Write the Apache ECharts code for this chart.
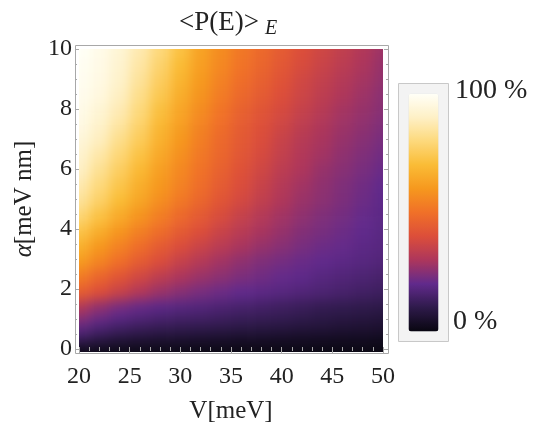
<!DOCTYPE html>
<html>
<head>
<meta charset="utf-8">
<script src="https://cdn.jsdelivr.net/npm/echarts@6/dist/echarts.min.js"></script>
<style>
  html, body { margin: 0; padding: 0; background: #fff; }
  #wrap { position: relative; width: 539px; height: 429px; }
  #clip { position: absolute; left: 79px; top: 49px; width: 304px; height: 303px; overflow: hidden; }
  #heat { position: absolute; left: -79px; top: -49px; width: 539px; height: 429px; filter: blur(6px); }
  #main { position: absolute; left: 0; top: 0; width: 539px; height: 429px; }
</style>
</head>
<body>
<div id="wrap">
  <div id="clip"><div id="heat"></div></div>
  <div id="main"></div>
</div>
<script>
// V [meV] sample columns
const vValues = [20, 22, 24, 26, 28, 30, 32, 34, 36, 38, 40, 42, 44, 46, 48, 50];
// alpha [meV nm] sample rows
const alphaValues = [0, 0.25, 0.5, 0.75, 1, 1.25, 1.5, 2, 2.5, 3, 3.5, 4, 4.5, 5,
  5.5, 6, 6.5, 7, 7.5, 8, 8.5, 9, 9.5, 10];
// <P(E)>_E in %, one row per alpha value
const percent = [
  [1, 1, 1, 1, 1, 0.5, 0.5, 0.5, 0.5, 0.5, 0.5, 0.5, 0.5, 0.5, 0.5, 0.5],
  [6, 5, 4, 3.5, 3, 3, 2.5, 2.5, 2, 2, 2, 2, 1.5, 1.5, 1.5, 1],
  [14, 11, 9, 8, 7, 6.5, 6, 5.5, 5, 5, 4.5, 4, 4, 3.5, 3.5, 3],
  [18, 15, 13, 11.5, 10.5, 10, 9.5, 9, 8.5, 8, 7.5, 7, 6.5, 6, 5.5, 5],
  [23, 19, 16.5, 15, 14, 13, 12.5, 12, 11, 10.5, 10, 9, 8.5, 7.5, 7, 6.5],
  [27, 23, 20, 18, 16.5, 15.5, 15, 14, 13, 12.5, 12, 11, 10, 9.5, 9, 8],
  [32, 27, 23.5, 21, 19.5, 18.5, 17.5, 16.5, 15.5, 14.5, 13.5, 12.5, 11.5, 11, 10.5, 10],
  [45, 40, 35.5, 31, 27.5, 25, 23, 21.5, 20, 19, 18, 17, 16, 15, 14, 13],
  [53, 47, 42, 37.5, 33.5, 30, 27.5, 25.5, 23.5, 22, 20.5, 19.5, 18, 17, 16, 15],
  [61, 55, 49.5, 44, 39.5, 35, 31.5, 28.5, 26, 24, 22.5, 21, 20, 19, 18, 17],
  [67, 60, 54.5, 49, 44, 39.5, 36, 32.5, 29.5, 27, 25, 23, 21.5, 20.5, 19, 18],
  [73, 66, 59.5, 54, 49, 44, 40, 36, 32.5, 29.5, 27, 24.5, 23, 21.5, 20, 18.5],
  [79, 72, 65, 59, 53.5, 48, 43.5, 39, 35, 31.5, 28.5, 26, 24, 22.5, 20.5, 19],
  [84, 77, 70, 63.5, 57.5, 52, 47, 42, 38, 34, 30.5, 27.5, 25.5, 23.5, 21.5, 19.5],
  [87, 80, 73, 66, 60, 54.5, 49, 44, 39.5, 35.5, 31.5, 28.5, 26, 24, 22, 20],
  [90, 83, 76, 69, 62, 56, 50.5, 45.5, 41, 37, 33, 30, 27, 25, 23, 21],
  [92, 86, 79, 72, 64.5, 58, 52, 47, 42.5, 38.5, 34.5, 31, 28.5, 26, 24, 22],
  [94, 89, 82, 75, 67, 60, 53.5, 48, 43.5, 39.5, 35.5, 32, 29.5, 27, 25, 23],
  [96, 91, 85, 77.5, 69, 62, 55, 49.5, 44.5, 40.5, 37, 33.5, 30.5, 28, 26, 24],
  [97, 93, 87.5, 80, 71.5, 64, 57, 51, 46, 42, 38.5, 35, 32, 29, 27, 25],
  [98, 95, 89.5, 82, 74, 66, 59, 53, 48, 44, 40, 36.5, 33.5, 30.5, 28, 25.5],
  [98.5, 96, 91, 84, 76, 68, 60.5, 54.5, 49.5, 45.5, 41.5, 37.5, 34.5, 31.5, 29, 26.5],
  [99, 96.5, 92, 85.5, 78, 70, 62, 56, 51, 47, 43, 39, 36, 33, 30, 27],
  [100, 97, 93, 87, 80, 72, 63, 57, 52, 48, 44, 40, 37, 34, 31, 28]
];
// colour scale labels
const scaleLabels = ['100 %', '0 %'];
const sunset = ['#080610', '#2e1a4a', '#612a8c', '#ad365c', '#dc4e3a', '#f07028',
  '#f6981e', '#fabc36', '#fdd97c', '#fef0c6', '#fffff8'];

const serif = 'Liberation Serif';
const frameColor = '#a8a8a8';
const textColor = '#222';

// cell edges halfway between samples; outer cells run past the frame so the
// soft rendering does not fade at the borders
function edges(arr, pad) {
  return arr.map(function (v, i) {
    const lo = i === 0 ? v - pad : (arr[i - 1] + v) / 2;
    const hi = i === arr.length - 1 ? v + pad : (v + arr[i + 1]) / 2;
    return [lo, hi];
  });
}
const vEdges = edges(vValues, 3);
const aEdges = edges(alphaValues, 1);

const cells = [];
alphaValues.forEach(function (a, i) {
  vValues.forEach(function (v, j) {
    cells.push([v, a, percent[i][j], i, j]);
  });
});

const grid = { left: 79, top: 49, width: 304, height: 303 };

// density layer (drawn soft, like a DensityPlot)
const heat = echarts.init(document.getElementById('heat'));
heat.setOption({
  animation: false,
  grid: grid,
  xAxis: { type: 'value', min: 20, max: 50, show: false },
  yAxis: { type: 'value', min: 0, max: 10, show: false },
  visualMap: {
    show: false, type: 'continuous', dimension: 2, min: 0, max: 100,
    inRange: { color: sunset }
  },
  series: [{
    type: 'custom',
    clip: false,
    encode: { x: 0, y: 1 },
    data: cells,
    renderItem: function (params, api) {
      const xe = vEdges[api.value(4)];
      const ye = aEdges[api.value(3)];
      const p0 = api.coord([xe[0], ye[1]]);
      const p1 = api.coord([xe[1], ye[0]]);
      return {
        type: 'rect',
        shape: { x: p0[0], y: p0[1], width: p1[0] - p0[0] + 0.6, height: p1[1] - p0[1] + 0.6 },
        style: { fill: api.visual('color') }
      };
    }
  }]
});

function tickAxis(extra) {
  return Object.assign({
    type: 'value',
    axisLine: { show: false },
    splitLine: { show: false },
    axisTick: { inside: true, length: 4, lineStyle: { color: frameColor } },
    minorTick: { show: true, length: 2, lineStyle: { color: frameColor } },
    axisLabel: { show: false }
  }, extra);
}

const chart = echarts.init(document.getElementById('main'));
chart.setOption({
  backgroundColor: 'transparent',
  animation: false,
  grid: grid,
  xAxis: [
    tickAxis({
      position: 'bottom', min: 20, max: 50, interval: 5, offset: 2,
      axisTick: { inside: true, length: 2, lineStyle: { color: frameColor } },
      minorTick: { show: true, splitNumber: 5, length: 2, lineStyle: { color: frameColor } },
      axisLabel: { show: true, margin: 14, fontFamily: serif, fontSize: 24, color: textColor },
      name: 'V[meV]', nameLocation: 'middle', nameGap: 48,
      nameTextStyle: { fontFamily: serif, fontSize: 25, color: textColor }
    }),
    tickAxis({
      position: 'top', min: 20, max: 50, interval: 5, offset: 4,
      minorTick: { show: true, splitNumber: 5, length: 2, lineStyle: { color: frameColor } }
    })
  ],
  yAxis: [
    tickAxis({
      position: 'left', min: 0, max: 10, interval: 2, offset: 4,
      minorTick: { show: true, splitNumber: 4, length: 2, lineStyle: { color: frameColor } },
      axisLabel: { show: true, margin: 3, fontFamily: serif, fontSize: 24, color: textColor },
      name: '{i|α}[meV nm]', nameLocation: 'middle', nameGap: 34, nameRotate: 90,
      nameTextStyle: {
        fontFamily: serif, fontSize: 25, color: textColor,
        rich: { i: { fontFamily: serif, fontSize: 25, fontStyle: 'italic', color: textColor } }
      }
    }),
    tickAxis({
      position: 'right', min: 0, max: 10, interval: 2, offset: 6,
      axisTick: { inside: true, length: 5, lineStyle: { color: frameColor } },
      minorTick: { show: true, splitNumber: 4, length: 3, lineStyle: { color: frameColor } }
    })
  ],
  visualMap: {
    type: 'continuous',
    seriesIndex: [],
    min: 0,
    max: 100,
    calculable: false,
    hoverLink: false,
    orient: 'vertical',
    left: 398,
    top: 83,
    itemWidth: 30,
    itemHeight: 238,
    padding: 10,
    backgroundColor: '#f3f3f3',
    borderColor: '#c8c8c8',
    borderWidth: 1,
    text: null,
    inRange: { color: sunset }
  },
  graphic: [
    {
      type: 'rect', silent: true,
      shape: { x: 75.5, y: 45.5, width: 313, height: 308 },
      style: { fill: 'none', stroke: frameColor, lineWidth: 1 }
    },
    {
      type: 'text', left: 179, top: 9,
      style: { text: '<P(E)>', fontFamily: serif, fontSize: 27, fill: textColor }
    },
    {
      type: 'text', left: 265, top: 19,
      style: { text: 'E', fontFamily: serif, fontSize: 20, fontStyle: 'italic', fill: textColor }
    },
    {
      type: 'text', left: 455, top: 77,
      style: { text: scaleLabels[0], fontFamily: serif, fontSize: 28, fill: textColor }
    },
    {
      type: 'text', left: 453, top: 308,
      style: { text: scaleLabels[1], fontFamily: serif, fontSize: 28, fill: textColor }
    }
  ]
});
</script>
</body>
</html>
